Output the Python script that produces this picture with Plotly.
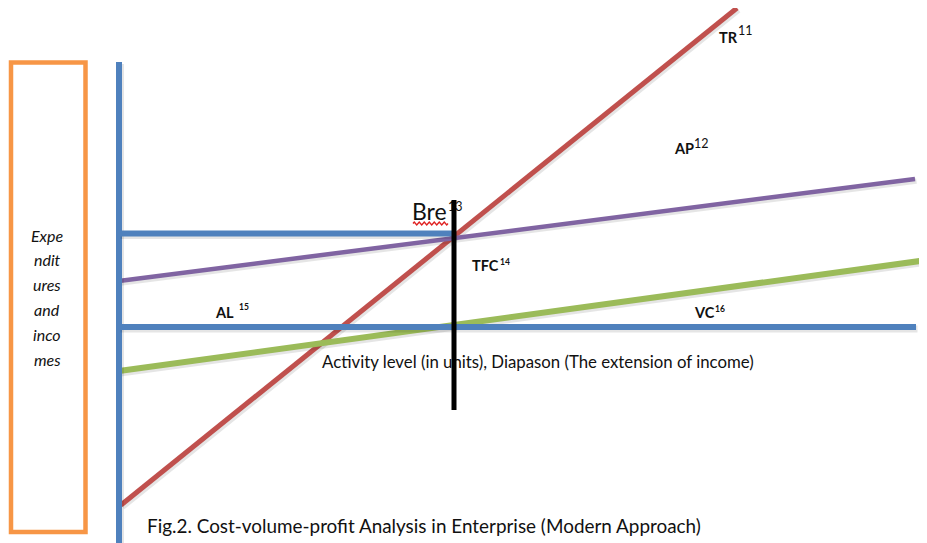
import numpy as np
import plotly.graph_objects as go

W, H = 927, 543
OFF = 8  # page body margin compensation

# ---- data (diagram coordinates: x = activity, y = amount; origin bottom-left) ----
axis_x = [119, 119]
axis_y = [0, 481]
bre_level_x = [119, 455]
bre_level_y = [309.5, 309.5]
al_x = [119, 916]
al_y = [216, 216]
tr_x = [121, 737]
tr_y = [38, 535]
ap_x = [119, 915]
ap_y = [262, 364]
vc_x = [119, 927]
vc_y = [172, 283]
bre_x = [454, 454]
bre_y = [133, 343]

BLUE = "#4F81BD"
RED = "#C0504D"
PURPLE = "#8064A2"
GREEN = "#9BBB59"
ORANGE = "#F79646"

fig = go.Figure()

def line(x, y, color, width):
    fig.add_trace(go.Scatter(x=[v + 1.5 for v in x], y=[v - 2 for v in y], mode="lines",
                             line=dict(color="rgba(0,0,0,0.10)", width=width + 1),
                             hoverinfo="skip", showlegend=False))
    fig.add_trace(go.Scatter(x=x, y=y, mode="lines", line=dict(color=color, width=width),
                             hoverinfo="skip", showlegend=False))

FONT = "Lato, 'Open Sans', sans-serif"

line(tr_x, tr_y, RED, 5)
line(ap_x, ap_y, PURPLE, 4.5)
line(vc_x, vc_y, GREEN, 6)
line(axis_x, axis_y, BLUE, 6)
line(bre_level_x, bre_level_y, BLUE, 6)
line(al_x, al_y, BLUE, 6)

def under_text(x, y, s, size):
    fig.add_trace(go.Scatter(x=[x], y=[y], mode="text", text=[s], textposition="middle right",
                             textfont=dict(family=FONT, size=size, color="#111"),
                             hoverinfo="skip", showlegend=False))

# texts that the break-even line crosses
under_text(448, 335.5, "13", 12.5)
under_text(322, 179.5, "Activity level (in units), Diapason (The extension of income)", 16.8)

fig.add_trace(go.Scatter(x=bre_x, y=bre_y, mode="lines", line=dict(color="black", width=5),
                         hoverinfo="skip", showlegend=False))

# spell-check wavy underline under "Bre"
wx = np.linspace(413, 448, 29)
wy = 319.5 + 1.5 * np.sin((wx - 413) * np.pi / 2.5)
fig.add_trace(go.Scatter(x=wx, y=wy, mode="lines", line=dict(color="#E02020", width=1.3),
                         hoverinfo="skip", showlegend=False))

# orange label box
fig.add_shape(type="rect", xref="x", yref="y", x0=11, x1=85.5, y0=11, y1=480.5,
              line=dict(color=ORANGE, width=4.5), fillcolor="rgba(0,0,0,0)")

def txt(x, y, s, size, bold=False, anchor="left", italic=False):
    if bold:
        s = "<b>" + s + "</b>"
    if italic:
        s = "<i>" + s + "</i>"
    fig.add_annotation(x=x, y=y, text=s, showarrow=False, xref="x", yref="y",
                       xanchor=anchor, yanchor="middle", borderpad=0,
                       font=dict(family=FONT, size=size, color="#111"))

txt(411, 332, "Bre", 23)

txt(718, 506, "TR", 14.5, bold=True)
txt(737, 512.5, "11", 12.5)
txt(673, 395, "AP", 14.5, bold=True)
txt(693, 400, "12", 12.5)
txt(471, 277.5, "TFC", 14.5, bold=True)
txt(499, 281.5, "14", 8.5, bold=True)
txt(214, 230.5, "AL", 14.5, bold=True)
txt(238, 236, "15", 8.5, bold=True)
txt(693, 230.5, "VC", 14.5, bold=True)
txt(714, 234.5, "16", 8.5, bold=True)

txt(146, 18, "Fig.2. Cost-volume-profit Analysis in Enterprise (Modern Approach)", 18.9)

words = ["Expe", "ndit", "ures", "and", "inco", "mes"]
for i, w in enumerate(words):
    txt(47, 308 - i * 24.8, w, 16, anchor="center", italic=True)

fig.update_layout(
    width=W, height=H, margin=dict(l=0, r=0, t=0, b=0),
    paper_bgcolor="white", plot_bgcolor="white",
    xaxis=dict(range=[OFF, W + OFF], visible=False, fixedrange=True),
    yaxis=dict(range=[-OFF, H - OFF], visible=False, fixedrange=True),
    showlegend=False,
)

fig.write_html("out.html", config={"displayModeBar": False})
